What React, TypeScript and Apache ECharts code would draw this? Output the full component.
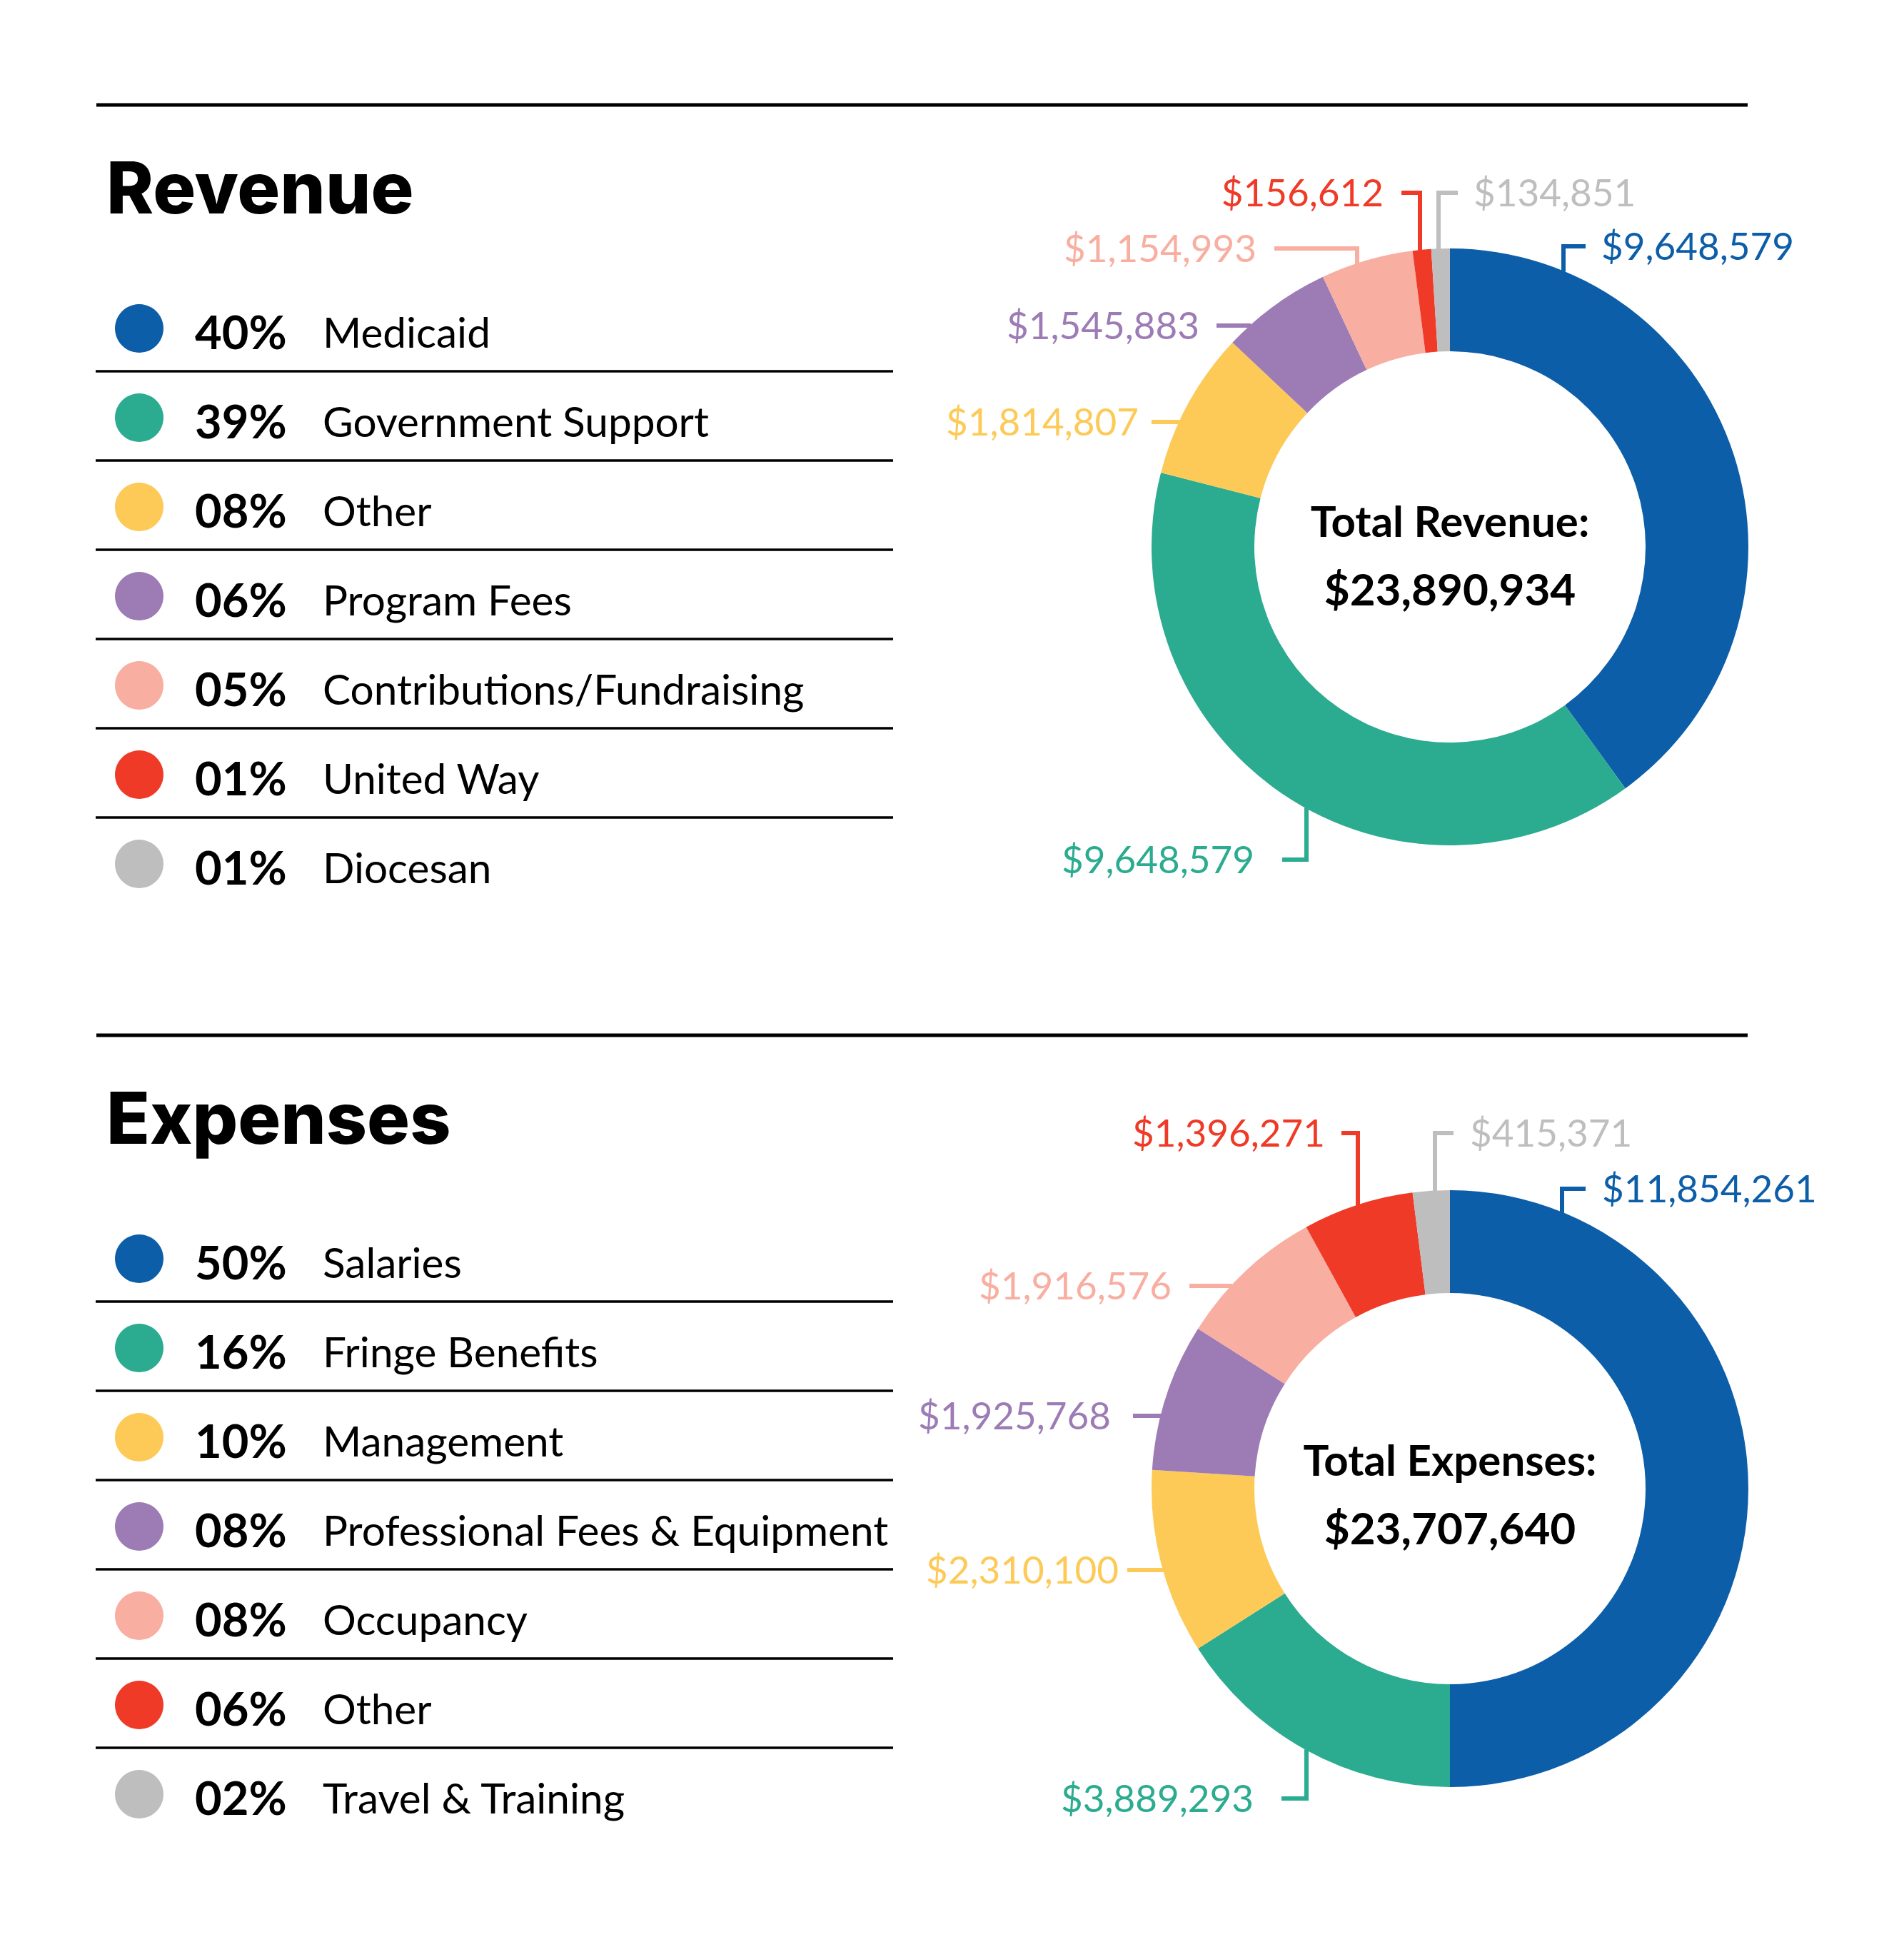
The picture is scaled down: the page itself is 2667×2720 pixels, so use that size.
import React, { useEffect, useRef } from "react";
import * as echarts from "echarts";

// ---------- data ----------
const revenueCategories = [
  "Medicaid",
  "Government Support",
  "Other",
  "Program Fees",
  "Contributions/Fundraising",
  "United Way",
  "Diocesan",
];
const revenuePercents = [40, 39, 8, 6, 5, 1, 1];
const revenueAmounts = [9648579, 9648579, 1814807, 1545883, 1154993, 156612, 134851];
const revenueTotal = 23890934;

const expenseCategories = [
  "Salaries",
  "Fringe Benefits",
  "Management",
  "Professional Fees & Equipment",
  "Occupancy",
  "Other",
  "Travel & Training",
];
const expensePercents = [50, 16, 10, 8, 8, 6, 2];
const expenseAmounts = [11854261, 3889293, 2310100, 1925768, 1916576, 1396271, 415371];
const expenseTotal = 23707640;

const sliceColors = ["#0D5EA8", "#2BAB8F", "#FDCA58", "#9D7CB6", "#F8AEA0", "#F03A28", "#BEBEBE"];

// ---------- layout / style (offsets from donut centre, px) ----------
type Leader = { kind: "v" | "h"; ax?: number; y: number; end: number; text: number; align: "left" | "right" };

const revenueLeaders: Leader[] = [
  { kind: "v", ax: 159, y: -421, end: 190, text: 212, align: "left" },
  { kind: "v", ax: -201, y: 438, end: -235, text: -274, align: "right" },
  { kind: "h", y: -175, end: -418, text: -436, align: "right" },
  { kind: "h", y: -310, end: -327, text: -351, align: "right" },
  { kind: "v", ax: -130, y: -418, end: -246, text: -271, align: "right" },
  { kind: "v", ax: -42, y: -496, end: -68, text: -93, align: "right" },
  { kind: "v", ax: -16, y: -496, end: 11, text: 33, align: "left" },
];

const expenseLeaders: Leader[] = [
  { kind: "v", ax: 157, y: -420, end: 190, text: 213, align: "left" },
  { kind: "v", ax: -201, y: 434, end: -236, text: -275, align: "right" },
  { kind: "h", y: 114, end: -452, text: -464, align: "right" },
  { kind: "h", y: -102, end: -444, text: -475, align: "right" },
  { kind: "h", y: -284, end: -365, text: -390, align: "right" },
  { kind: "v", ax: -129, y: -498, end: -152, text: -175, align: "right" },
  { kind: "v", ax: -21, y: -498, end: 5, text: 28, align: "left" },
];

const W = 2667;
const H = 2720;
const OUTER_R = 418;
const INNER_R = 274;

const money = (n: number) => "$" + n.toLocaleString("en-US");
const pct = (n: number) => String(n).padStart(2, "0") + "%";

type Section = {
  title: string;
  totalLabel: string;
  categories: string[];
  percents: number[];
  amounts: number[];
  total: number;
  leaders: Leader[];
  top: number;
  center: [number, number];
  totalDy: number;
};

const sections: Section[] = [
  {
    title: "Revenue",
    totalLabel: "Total Revenue:",
    categories: revenueCategories,
    percents: revenuePercents,
    amounts: revenueAmounts,
    total: revenueTotal,
    leaders: revenueLeaders,
    top: 0,
    center: [2031, 766],
    totalDy: 0,
  },
  {
    title: "Expenses",
    totalLabel: "Total Expenses:",
    categories: expenseCategories,
    percents: expensePercents,
    amounts: expenseAmounts,
    total: expenseTotal,
    leaders: expenseLeaders,
    top: 1303,
    center: [2031, 2085],
    totalDy: -4,
  },
];

function buildOption() {
  const graphics: any[] = [];
  const series: any[] = [];

  sections.forEach((s) => {
    const t = s.top;
    // top rule
    graphics.push({
      type: "line",
      shape: { x1: 135, y1: 147 + t, x2: 2448, y2: 147 + t },
      style: { stroke: "#000", lineWidth: 5 },
      silent: true,
    });
    // section title
    graphics.push({
      type: "text",
      x: 149,
      y: 262 + t,
      style: {
        text: s.title,
        fontFamily: "Inter",
        fontWeight: 800,
        fontSize: 100,
        fill: "#000",
        align: "left",
        verticalAlign: "middle",
      },
      silent: true,
    });
    // legend rows
    s.categories.forEach((name, i) => {
      const cy = 460 + t + i * 125;
      graphics.push({
        type: "circle",
        shape: { cx: 195, cy, r: 34 },
        style: { fill: sliceColors[i] },
        silent: true,
      });
      graphics.push({
        type: "text",
        x: 273,
        y: cy + 4,
        style: {
          text: pct(s.percents[i]),
          fontFamily: "Lato",
          fontWeight: "bold",
          fontSize: 65,
          fill: "#000",
          align: "left",
          verticalAlign: "middle",
        },
        silent: true,
      });
      graphics.push({
        type: "text",
        x: 452,
        y: cy + 4,
        style: {
          text: name,
          fontFamily: "Lato",
          fontSize: 58.5,
          fill: "#000",
          align: "left",
          verticalAlign: "middle",
        },
        silent: true,
      });
      if (i < s.categories.length - 1) {
        graphics.push({
          type: "line",
          shape: { x1: 134, y1: cy + 60, x2: 1251, y2: cy + 60 },
          style: { stroke: "#000", lineWidth: 3.5 },
          silent: true,
        });
      }
    });
    // centre totals
    const [cx, cy] = s.center;
    graphics.push({
      type: "text",
      x: cx,
      y: cy - 37 + s.totalDy,
      style: {
        text: s.totalLabel,
        fontFamily: "Lato",
        fontWeight: "bold",
        fontSize: 60,
        fill: "#000",
        align: "center",
        verticalAlign: "middle",
      },
      silent: true,
    });
    graphics.push({
      type: "text",
      x: cx,
      y: cy + 58 + s.totalDy,
      style: {
        text: money(s.total),
        fontFamily: "Lato",
        fontWeight: "bold",
        fontSize: 62,
        fill: "#000",
        align: "center",
        verticalAlign: "middle",
      },
      silent: true,
    });

    // donut
    series.push({
      type: "pie",
      center: s.center,
      radius: [INNER_R, OUTER_R],
      startAngle: 90,
      clockwise: true,
      avoidLabelOverlap: false,
      silent: true,
      emphasis: { disabled: true },
      data: s.categories.map((name, i) => ({
        name,
        value: s.percents[i],
        itemStyle: { color: sliceColors[i] },
        label: { color: sliceColors[i] },
        labelLine: { lineStyle: { color: sliceColors[i] } },
      })),
      label: {
        show: true,
        position: "outside",
        formatter: (p: any) => money(s.amounts[p.dataIndex]),
        fontFamily: "Lato",
        fontSize: 53,
      },
      labelLine: {
        show: true,
        length: 10,
        length2: 10,
        smooth: false,
        lineStyle: { width: 6, cap: "butt", join: "miter" },
      },
      labelLayout: (p: any) => {
        const L = s.leaders[p.dataIndex];
        const R = OUTER_R - 1;
        let start: number[];
        let mid: number[];
        if (L.kind === "v") {
          const ax = L.ax as number;
          const dy = Math.sqrt(R * R - ax * ax) * (L.y < 0 ? -1 : 1);
          start = [cx + ax, cy + dy];
          mid = [cx + ax, cy + L.y];
        } else {
          const dx = Math.sqrt(R * R - L.y * L.y) * (L.end < 0 ? -1 : 1);
          start = [cx + dx, cy + L.y];
          mid = [(cx + dx + cx + L.end) / 2, cy + L.y];
        }
        return {
          x: cx + L.text,
          y: cy + L.y - 2,
          align: L.align,
          verticalAlign: "middle",
          labelLinePoints: [start, mid, [cx + L.end, cy + L.y]],
        };
      },
    });
  });

  return {
    animation: false,
    backgroundColor: "#ffffff",
    graphic: { elements: graphics },
    series,
  };
}

export default function App() {
  const ref = useRef<HTMLDivElement>(null);
  useEffect(() => {
    document.body.style.margin = "0";
    const chart = echarts.init(ref.current as HTMLDivElement, null, { renderer: "svg" });
    chart.setOption(buildOption() as any);
    return () => chart.dispose();
  }, []);
  return <div ref={ref} style={{ width: W, height: H }} />;
}
